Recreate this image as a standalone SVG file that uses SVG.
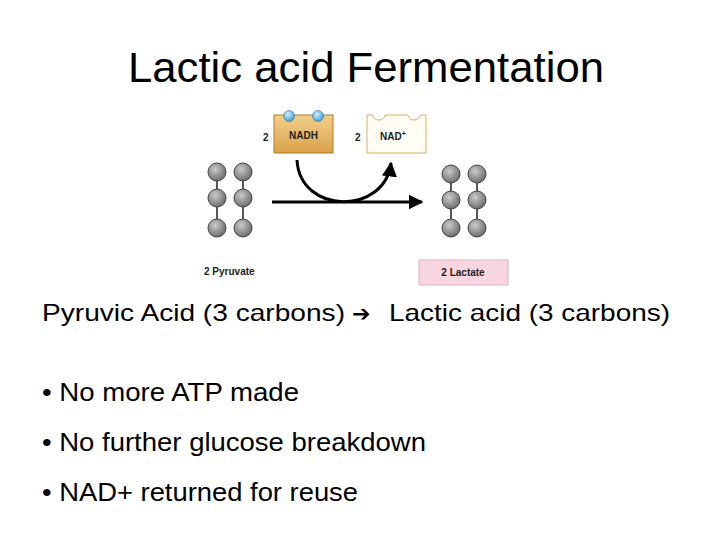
<svg xmlns="http://www.w3.org/2000/svg" width="720" height="540" viewBox="0 0 720 540">
<defs>
<style>
.t{font-family:"Liberation Sans",Arial,sans-serif;fill:#000}
.s{font-family:"Liberation Sans",Arial,sans-serif;font-weight:bold;font-size:10px;fill:#222}
.b{font-size:26px}
.bond{stroke:#222;stroke-width:1.5}
.c{fill:url(#g);stroke:#444;stroke-width:1}
</style>
<radialGradient id="g" cx="0.4" cy="0.35" r="0.7"><stop offset="0" stop-color="#ccc"/><stop offset="1" stop-color="#666"/></radialGradient>
<radialGradient id="bl" cx="0.4" cy="0.35" r="0.7"><stop offset="0" stop-color="#cfeeff"/><stop offset="1" stop-color="#3a9ad0"/></radialGradient>
<linearGradient id="o" x1="0" y1="0" x2="0" y2="1"><stop offset="0" stop-color="#f2cf8a"/><stop offset="1" stop-color="#d9a24a"/></linearGradient>
<marker id="ah" viewBox="0 0 10 10" refX="9" refY="5" markerWidth="5" markerHeight="5" orient="auto"><path d="M0,0 L10,5 L0,10 z" fill="#000"/></marker>
</defs>
<rect width="720" height="540" fill="#fff"/>
<text class="t" x="128" y="82" font-size="42" textLength="476" lengthAdjust="spacingAndGlyphs">Lactic acid Fermentation</text>

<g id="pyruvate">
<line class="bond" x1="217" y1="172" x2="217" y2="228"/><line class="bond" x1="243" y1="172" x2="243" y2="228"/>
<circle class="c" cx="217" cy="172" r="9"/><circle class="c" cx="217" cy="198" r="9"/><circle class="c" cx="217" cy="228" r="9"/>
<circle class="c" cx="243" cy="172" r="9"/><circle class="c" cx="243" cy="198" r="9"/><circle class="c" cx="243" cy="228" r="9"/>
<text class="s" x="204" y="275">2 Pyruvate</text>
</g>
<g id="lactate">
<line class="bond" x1="451" y1="174" x2="451" y2="228"/><line class="bond" x1="477" y1="174" x2="477" y2="228"/>
<circle class="c" cx="451" cy="174" r="9"/><circle class="c" cx="451" cy="200" r="9"/><circle class="c" cx="451" cy="228" r="9"/>
<circle class="c" cx="477" cy="174" r="9"/><circle class="c" cx="477" cy="200" r="9"/><circle class="c" cx="477" cy="228" r="9"/>
<rect x="419" y="260" width="89" height="25" fill="#f7d6e2" stroke="#e0b0c2"/>
<text class="s" x="463" y="276" text-anchor="middle">2 Lactate</text>
</g>
<g id="nadh">
<rect x="274" y="115" width="59" height="38" fill="url(#o)" stroke="#b07d30"/>
<circle cx="289" cy="116" r="5.5" fill="url(#bl)" stroke="#2a7ab0" stroke-width="0.6"/>
<circle cx="318" cy="116" r="5.5" fill="url(#bl)" stroke="#2a7ab0" stroke-width="0.6"/>
<text class="s" x="303.5" y="139" text-anchor="middle">NADH</text>
<text class="s" x="263" y="141">2</text>
</g>
<g id="nad">
<path d="M367,115 H373 a6,5 0 0 0 12,0 H408 a6,5 0 0 0 12,0 H426 V153 H367 Z" fill="#fffdf4" stroke="#d9b060"/>
<text class="s" x="393" y="140" text-anchor="middle">NAD<tspan font-size="7" dy="-4">+</tspan></text>
<text class="s" x="355" y="141">2</text>
</g>
<g id="connectors">
<line x1="272" y1="202" x2="422" y2="202" stroke="#000" stroke-width="3" marker-end="url(#ah)"/>
<path d="M297,160 C300,215 385,215 391,163" fill="none" stroke="#000" stroke-width="3" marker-end="url(#ah)"/>
</g>
<g id="text">
<text class="t" x="42" y="321" font-size="24"><tspan textLength="303" lengthAdjust="spacingAndGlyphs">Pyruvic Acid (3 carbons)</tspan><tspan x="352" font-family="DejaVu Sans" font-size="22">➔</tspan><tspan x="389" textLength="281" lengthAdjust="spacingAndGlyphs">Lactic acid (3 carbons)</tspan></text>
<text class="t b" x="42" y="401" textLength="257" lengthAdjust="spacingAndGlyphs">• No more ATP made</text>
<text class="t b" x="42" y="451" textLength="384" lengthAdjust="spacingAndGlyphs">• No further glucose breakdown</text>
<text class="t b" x="42" y="501" textLength="316" lengthAdjust="spacingAndGlyphs">• NAD+ returned for reuse</text>
</g>
</svg>
